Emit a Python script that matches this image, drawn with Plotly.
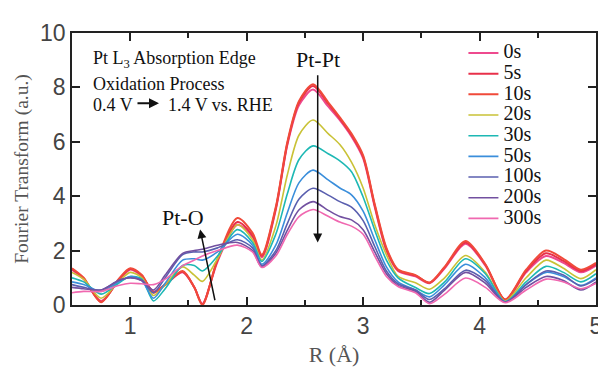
import plotly.graph_objects as go

r = [0.5, 0.6, 0.75, 0.9, 1.0, 1.1, 1.2, 1.3, 1.45, 1.55, 1.62, 1.75, 1.92, 2.05, 2.13,
     2.25, 2.35, 2.45, 2.57, 2.7, 2.8, 2.9, 3.0, 3.1, 3.2, 3.3, 3.45, 3.57, 3.7, 3.88,
     4.05, 4.22, 4.4, 4.57, 4.72, 4.87, 5.0]

s0 = [1.3, 0.95, 0.15, 0.9, 1.3, 1.05, 0.5, 0.75, 1.2, 0.65, 0.05, 1.6, 2.95, 2.5, 1.75,
      3.5, 5.9, 7.35, 7.92, 7.3, 6.8, 6.2, 5.4, 3.6, 2.0, 1.25, 1.05, 0.8, 1.35, 2.25,
      1.45, 0.18, 1.2, 1.8, 1.55, 1.2, 1.45]
s5 = [1.32, 0.98, 0.12, 0.92, 1.32, 1.08, 0.47, 0.75, 1.22, 0.65, 0.03, 1.65, 3.05, 2.55, 1.8,
      3.55, 5.95, 7.45, 8.05, 7.4, 6.85, 6.25, 5.45, 3.65, 2.05, 1.28, 1.08, 0.82, 1.38, 2.3,
      1.48, 0.2, 1.25, 1.9, 1.62, 1.25, 1.5]
s10 = [1.35, 1.0, 0.1, 0.95, 1.35, 1.1, 0.45, 0.75, 1.25, 0.65, 0.0, 1.7, 3.2, 2.65, 1.85,
       3.6, 6.0, 7.5, 8.12, 7.45, 6.9, 6.3, 5.5, 3.7, 2.1, 1.3, 1.1, 0.82, 1.4, 2.35,
       1.5, 0.2, 1.3, 2.0, 1.7, 1.3, 1.55]
s20 = [1.2, 0.95, 0.25, 0.85, 1.2, 1.0, 0.35, 0.75, 1.4, 1.1, 0.87, 1.7, 2.95, 2.4, 1.65,
       2.9, 4.8, 6.25, 6.8, 6.3, 5.9, 5.25, 4.3, 2.95, 1.85, 1.05, 0.82, 0.58, 1.0, 1.82,
       1.2, 0.15, 1.0, 1.65, 1.35, 0.97, 1.3]
s30 = [1.0, 0.85, 0.4, 0.8, 1.05, 0.95, 0.15, 0.6, 1.45, 1.45, 1.25, 1.8, 2.77, 2.3, 1.6,
       2.6, 4.1, 5.35, 5.85, 5.56, 5.3, 4.9, 3.97, 2.75, 1.65, 1.0, 0.64, 0.42, 0.85, 1.7,
       1.15, 0.12, 0.85, 1.42, 1.2, 0.85, 1.15]
s50 = [0.85, 0.75, 0.5, 0.85, 1.05, 0.9, 0.25, 0.8, 1.65, 1.7, 1.65, 1.95, 2.6, 2.2, 1.5,
       2.2, 3.4, 4.5, 4.96, 4.6, 4.3, 4.05, 3.45, 2.4, 1.4, 0.85, 0.55, 0.3, 0.75, 1.5,
       1.0, 0.12, 0.75, 1.2, 1.05, 0.72, 1.0]
s100 = [0.75, 0.65, 0.55, 0.9, 1.0, 0.9, 0.45, 1.0, 1.85, 1.95, 1.95, 2.1, 2.4, 2.1, 1.45,
        2.0, 3.0, 3.9, 4.29, 4.04, 3.8, 3.6, 3.1, 2.15, 1.25, 0.78, 0.55, 0.2, 0.6, 1.28,
        0.9, 0.1, 0.75, 1.25, 1.1, 0.7, 0.95]
s200 = [0.65, 0.6, 0.55, 0.9, 1.0, 0.9, 0.55, 1.1, 1.9, 2.0, 2.05, 2.2, 2.3, 2.0, 1.4,
        1.9, 2.75, 3.5, 3.8, 3.48, 3.25, 3.13, 2.77, 1.95, 1.15, 0.72, 0.5, 0.1, 0.55, 1.2,
        0.8, 0.1, 0.65, 1.05, 0.9, 0.55, 0.85]
s300 = [0.45, 0.5, 0.5, 0.72, 0.8, 0.78, 0.75, 0.95, 1.45, 1.65, 1.8, 2.0, 2.2, 1.95, 1.38,
        1.8, 2.6, 3.25, 3.51, 3.26, 3.05, 2.9, 2.6, 1.8, 1.05, 0.68, 0.45, 0.05, 0.4, 0.99,
        0.65, 0.08, 0.55, 0.95, 0.85, 0.6, 0.8]

labels = ["0s", "5s", "10s", "20s", "30s", "50s", "100s", "200s", "300s"]
series = [s0, s5, s10, s20, s30, s50, s100, s200, s300]
colors = ["#EE4A8E", "#E8304A", "#F04A3A", "#C9C236", "#1DB8B4", "#3A8EDB",
          "#5A5FAF", "#7250A0", "#F068B0"]
widths = [2, 2, 2, 1.6, 1.6, 1.6, 1.6, 1.6, 1.6]

x_ticks = [1, 2, 3, 4, 5]
y_ticks = [0, 2, 4, 6, 8, 10]

fig = go.Figure()
for lab, ys, c, w in zip(labels, series, colors, widths):
    fig.add_trace(go.Scatter(x=r, y=ys, mode="lines",
                             name='<span style="font-size:20px">' + lab + '</span>',
                             line=dict(color=c, width=w, shape="spline", smoothing=0.8)))

serif = "Liberation Serif, Times New Roman, serif"
sans = "Liberation Sans, Arial, sans-serif"

fig.update_layout(
    width=606, height=369,
    margin=dict(l=57, r=14, t=15, b=72),
    paper_bgcolor="white", plot_bgcolor="white",
    showlegend=True,
    legend=dict(x=0.747, y=0.983, xanchor="left", yanchor="top",
                bgcolor="rgba(0,0,0,0)", font=dict(family=serif, size=13.6, color="#111"),
                tracegroupgap=0),
    xaxis=dict(range=[0.5, 5], tickvals=x_ticks, ticks="inside", ticklen=8, tickwidth=1.5,
               tickcolor="#222", showline=True, linecolor="#222", linewidth=1.5,
               mirror="allticks", showgrid=False, zeroline=False,
               minor=dict(dtick=0.5, ticks="inside", ticklen=5, tickwidth=1.5, tickcolor="#222"),
               tickfont=dict(family=sans, size=23, color="#444"),
               title=dict(text="R (Å)", font=dict(family=serif, size=22, color="#555"), standoff=8)),
    yaxis=dict(range=[0, 10], tickvals=y_ticks, ticks="inside", ticklen=8, tickwidth=1.5,
               tickcolor="#222", showline=True, linecolor="#222", linewidth=1.5,
               mirror="allticks", showgrid=False, zeroline=False,
               tickfont=dict(family=sans, size=23, color="#444"),
               title=dict(text="Fourier Transform (a.u.)", font=dict(family=serif, size=19.5, color="#555"),
                          standoff=6)),
)

ann_font = dict(family=serif, size=18, color="#111")
fig.add_annotation(xref="paper", yref="paper", x=0.036, y=0.904, text="Pt L<sub>3</sub> Absorption Edge",
                   showarrow=False, xanchor="left", yanchor="middle", font=ann_font)
fig.add_annotation(xref="paper", yref="paper", x=0.036, y=0.812, text="Oxidation Process",
                   showarrow=False, xanchor="left", yanchor="middle", font=ann_font)
fig.add_annotation(xref="paper", yref="paper", x=0.036, y=0.737, text="0.4 V",
                   showarrow=False, xanchor="left", yanchor="middle", font=ann_font)
fig.add_annotation(xref="paper", yref="paper", x=0.180, y=0.737, text="1.4 V vs. RHE",
                   showarrow=False, xanchor="left", yanchor="middle", font=ann_font)
fig.add_annotation(xref="paper", yref="paper", x=0.166, y=0.742, ax=-23, ay=0, text="",
                   showarrow=True, arrowhead=2, arrowsize=1, arrowwidth=2, arrowcolor="#111")

fig.add_annotation(xref="paper", yref="paper", x=0.469, y=0.904, text="Pt-Pt",
                   showarrow=False, xanchor="center", yanchor="middle",
                   font=dict(family=serif, size=22, color="#111"))
fig.add_annotation(xref="x", yref="y", x=2.61, y=2.3, axref="x", ayref="y", ax=2.61, ay=8.5,
                   text="", showarrow=True, arrowhead=2, arrowsize=1.2, arrowwidth=1.5, arrowcolor="#111")

fig.add_annotation(xref="x", yref="y", x=1.45, y=3.23, text="Pt-O",
                   showarrow=False, xanchor="center", yanchor="middle",
                   font=dict(family=serif, size=22, color="#111"))
fig.add_annotation(xref="x", yref="y", x=1.60, y=2.78, axref="x", ayref="y", ax=1.73, ay=0.12,
                   text="", showarrow=True, arrowhead=2, arrowsize=1.2, arrowwidth=1.5, arrowcolor="#111")

fig.write_html("out.html")
